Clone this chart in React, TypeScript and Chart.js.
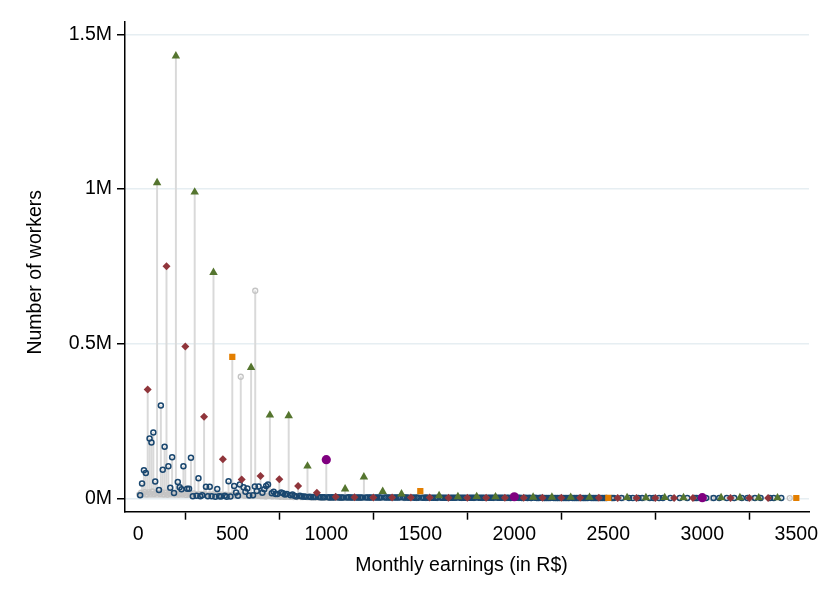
import React, { useEffect, useRef } from "react";
import { Chart, registerables } from "chart.js";

Chart.register(...registerables);

// ---- axis ticks ----
const xTicks = [0, 500, 1000, 1500, 2000, 2500, 3000, 3500];
const yTicks = [0, 500, 1000, 1500]; // thousands of workers
const yTickLabels = ["0M", "0.5M", "1M", "1.5M"];
const xTitle = "Monthly earnings (in R$)";
const yTitle = "Number of workers";

// ---- series (y in thousands of workers) ----
// multiples of 100 (not of 500)
const greenX = [100, 200, 300, 400, 600, 700, 800, 900, 1100, 1200, 1300, 1400, 1600, 1700, 1800, 1900, 2100, 2200, 2300, 2400, 2600, 2700, 2800, 2900, 3100, 3200, 3300, 3400];
const greenY = [1020, 1430, 990, 730, 423, 269, 267, 104, 30, 69, 22, 14, 8.5, 5, 5.5, 4.5, 3.5, 3.5, 3, 3, 2.5, 2, 2.5, 2, 2, 2, 1.5, 1.5];

// odd multiples of 50
const redX = [50, 150, 250, 350, 450, 550, 650, 750, 850, 950, 1050, 1150, 1250, 1350, 1450, 1550, 1650, 1750, 1850, 1950, 2050, 2150, 2250, 2350, 2450, 2550, 2650, 2750, 2850, 2950, 3150, 3250, 3350];
const redY = [352, 750, 491, 264, 126, 61, 72, 62, 40, 18, 5, 3.5, 3, 3, 2.5, 2.5, 2, 2, 2, 2, 1.8, 1.8, 1.5, 1.5, 1.5, 1.2, 1.2, 1.2, 1, 1, 1, 0.8, 0.8];

// odd multiples of 500
const orangeX = [500, 1500, 2500, 3500];
const orangeY = [457, 23, 1.5, 1];

// multiples of 1000
const purpleX = [1000, 2000, 3000];
const purpleY = [125, 5, 2];

// other multiples of 10
const blueX = [
  10, 20, 30, 40, 60, 70, 80, 90,
  110, 120, 130, 140, 160, 170, 180, 190,
  210, 220, 230, 240, 260, 270, 280, 290,
  310, 320, 330, 340, 360, 370, 380, 390,
  410, 420, 430, 440, 460, 470, 480, 490,
  510, 520, 530, 540, 560, 570, 580, 590,
  610, 620, 630, 640, 660, 670, 680, 690,
  710, 720, 730, 740, 760, 770, 780, 790,
  810, 820, 830, 840, 860, 870, 880, 890,
  910, 920, 930, 940, 960, 970, 980, 990,
  1010, 1020, 1030, 1040, 1060, 1070, 1080, 1090,
  1110, 1120, 1130, 1140, 1160, 1170, 1180, 1190,
  1210, 1220, 1230, 1240, 1260, 1270, 1280, 1290,
  1310, 1320, 1330, 1340, 1360, 1370, 1380, 1390,
  1410, 1420, 1430, 1440, 1460, 1470, 1480, 1490,
  1510, 1520, 1530, 1540, 1560, 1570, 1580, 1590,
  1610, 1620, 1630, 1640, 1660, 1670, 1680, 1690,
  1710, 1720, 1730, 1740, 1760, 1770, 1780, 1790,
  1810, 1820, 1830, 1840, 1860, 1870, 1880, 1890,
  1910, 1920, 1930, 1940, 1960, 1970, 1980, 1990,
  2010, 2020, 2030, 2040, 2060, 2070, 2080, 2090,
  2110, 2120, 2130, 2140, 2160, 2170, 2180, 2190,
  2210, 2220, 2230, 2240, 2260, 2270, 2280, 2290,
  2310, 2320, 2330, 2340, 2360, 2370, 2380, 2390,
  2410, 2420, 2430, 2440, 2460, 2470, 2480, 2490,
  2520, 2530, 2570, 2610, 2630, 2660, 2680, 2720, 2740, 2770, 2790, 2830, 2880, 2920,
  2960, 2970, 3020, 3060, 3090, 3130, 3170, 3210, 3240, 3280, 3310, 3360, 3380, 3420,
];
const blueY = [
  10, 48, 91, 82, 193, 180, 213, 54,
  27, 300, 92, 167, 104, 34, 133, 17,
  53, 36, 29, 104, 31, 31, 131, 7,
  8, 65, 7, 10, 37, 7, 37, 7,
  5, 30, 7, 6, 8, 5, 55, 6,
  40, 19, 8, 45, 36, 21, 32, 9,
  10, 38, 24, 38, 18, 29, 40, 45,
  16, 21, 14, 14, 19, 16, 12, 14,
  10, 12, 8, 6, 8, 6, 6, 5,
  5, 4.5, 4.5, 4, 4, 3.5, 3.5, 3.5,
  3.2, 3, 3.4, 2.9, 3.1, 2.8, 3, 2.7,
  2.9, 3.1, 2.7, 2.8, 2.6, 2.9, 2.5, 2.7,
  2.8, 2.6, 2.5, 2.7, 2.4, 2.6, 2.5, 2.3,
  2.5, 2.4, 2.6, 2.3, 2.4, 2.2, 2.5, 2.3,
  2.3, 2.2, 2.4, 2.1, 2.3, 2.0, 2.2, 2.1,
  2.1, 2.0, 2.2, 1.9, 2.1, 1.9, 2.0, 1.8,
  2.0, 1.9, 1.8, 2.0, 1.8, 1.7, 1.9, 1.7,
  1.8, 1.7, 1.9, 1.6, 1.8, 1.6, 1.7, 1.5,
  1.7, 1.6, 1.5, 1.7, 1.6, 1.5, 1.6, 1.4,
  1.6, 1.5, 1.4, 1.6, 1.4, 1.5, 1.3, 1.4,
  1.5, 1.4, 1.5, 1.3, 1.4, 1.3, 1.4, 1.2,
  1.4, 1.3, 1.2, 1.4, 1.3, 1.2, 1.3, 1.1,
  1.3, 1.2, 1.3, 1.1, 1.2, 1.1, 1.2, 1.0,
  1.2, 1.1, 1.2, 1.0, 1.1, 1.0, 1.1, 1.0,
  1.1, 1.0, 1.1, 0.9, 1.0, 0.9, 1.0, 0.9,
  0.9, 1.0, 0.9, 0.9, 0.8, 0.9, 0.8, 0.9, 0.8, 0.8, 0.9, 0.8, 0.8, 0.8,
  0.8, 0.8, 0.7, 0.8, 0.7, 0.8, 0.7, 0.7, 0.8, 0.7, 0.7, 0.7, 0.7, 0.7,
];

// non-round values
const grayX = [
  5, 15, 25, 35, 45, 55, 65, 75, 85, 95,
  105, 115, 125, 135, 145, 155, 165, 175, 185, 195,
  205, 215, 225, 235, 245, 255, 265, 275, 285, 295,
  305, 315, 325, 335, 345, 355, 365, 375, 385, 395,
  405, 415, 425, 435, 445, 455, 465, 475, 485, 495,
  505, 515, 525, 535, 545, 555, 565, 575, 585, 595,
  605, 615, 622, 625, 635, 645, 655, 665, 675, 685, 695,
  705, 715, 725, 735, 745, 755, 765, 775, 785, 795,
  805, 815, 825, 835, 845, 855, 865, 875, 885, 895,
  905, 915, 925, 935, 945, 955, 965, 975, 985, 995,
  1005, 1015, 1025, 1035, 1045, 1055, 1065, 1075, 1085, 1095,
  1105, 1115, 1125, 1135, 1145, 1155, 1165, 1175, 1185, 1195,
  1235, 1290, 1345, 1415, 1480, 1530, 1590, 1645, 1720, 1785,
  1830, 1890, 1960, 2025, 2090, 2160, 2230, 2290, 2370, 2440,
  2520, 2580, 2690, 2770, 2980, 3050, 3170, 3260, 3465,
];
const grayY = [
  12, 18, 14, 20, 13, 19, 15, 22, 14, 17,
  17, 14, 20, 13, 18, 12, 16, 14, 17, 13,
  15, 12, 16, 13, 17, 11, 14, 12, 13, 16,
  12, 13, 11, 14, 12, 13, 10, 12, 9, 13,
  10, 12, 9, 13, 10, 9, 12, 10, 9, 11,
  10, 9, 11, 9, 393, 10, 8, 9, 10, 8,
  9, 8, 671, 10, 8, 9, 7, 8, 6, 7, 8,
  7, 6, 8, 6, 7, 5, 6, 5, 5, 6,
  5, 5, 4, 5, 4, 5, 4, 4, 5, 4,
  3.5, 3.5, 3, 3.5, 3, 3.5, 3, 2.5, 3, 2.5,
  2.5, 2.5, 2, 2.5, 2, 2, 2, 1.8, 1.8, 1.7,
  1.7, 1.6, 1.6, 1.5, 1.5, 1.4, 1.4, 1.3, 1.2, 1.3,
  1.2, 1.1, 1.1, 1, 1, 1, 1, 0.9, 0.9, 0.9,
  0.9, 0.9, 0.8, 0.8, 0.8, 0.8, 0.8, 0.8, 0.7, 0.7,
  0.7, 0.7, 0.7, 0.7, 0.6, 0.6, 0.6, 0.6, 0.6,
];

const FONT = "'Liberation Sans', Arial, Helvetica, sans-serif";
const FS = 19.5;

function pts(xs: number[], ys: number[]) {
  return xs.map((x, i) => ({ x, y: ys[i] }));
}

export default function App() {
  const ref = useRef<HTMLCanvasElement>(null);

  useEffect(() => {
    if (!ref.current) return;
    const allPoints = [
      ...pts(grayX, grayY),
      ...pts(blueX, blueY),
      ...pts(redX, redY),
      ...pts(greenX, greenY),
      ...pts(orangeX, orangeY),
      ...pts(purpleX, purpleY),
    ];
    const chart = new Chart(ref.current, {
      type: "scatter",
      data: {
        datasets: [
          {
            type: "scatter",
            data: pts(purpleX, purpleY),
            pointStyle: "circle",
            pointRadius: 4.6,
            backgroundColor: "#800080",
            borderColor: "#800080",
            borderWidth: 0,
            order: 1,
          },
          {
            type: "scatter",
            data: pts(orangeX, orangeY),
            pointStyle: "rect",
            pointRadius: 4.4,
            backgroundColor: "#e37e00",
            borderColor: "#e37e00",
            borderWidth: 0,
            order: 2,
          },
          {
            type: "scatter",
            data: pts(greenX, greenY),
            pointStyle: "triangle",
            pointRadius: 4.9,
            backgroundColor: "#55752f",
            borderColor: "#55752f",
            borderWidth: 0,
            order: 3,
          },
          {
            type: "scatter",
            data: pts(redX, redY),
            pointStyle: "rectRot",
            pointRadius: 4,
            backgroundColor: "#90353b",
            borderColor: "#90353b",
            borderWidth: 0,
            order: 4,
          },
          {
            type: "scatter",
            data: pts(blueX, blueY),
            pointStyle: "circle",
            pointRadius: 2.5,
            backgroundColor: "rgba(255,255,255,0)",
            borderColor: "#1a476f",
            borderWidth: 1.5,
            order: 5,
          },
          {
            type: "scatter",
            data: pts(grayX, grayY),
            pointStyle: "circle",
            pointRadius: 2.5,
            backgroundColor: "rgba(255,255,255,0)",
            borderColor: "#c4c4c4",
            borderWidth: 1.3,
            order: 6,
          },
          {
            type: "bar",
            data: allPoints as any,
            backgroundColor: "#d9d9d9",
            borderWidth: 0,
            barThickness: 1.3,
            order: 10,
          } as any,
        ],
      },
      options: {
        animation: false,
        responsive: false,
        events: [],
        layout: { padding: { top: 22, right: 21, left: 0, bottom: 0 } },
        plugins: {
          legend: { display: false },
          tooltip: { enabled: false },
        },
        scales: {
          x: {
            type: "linear",
            min: -70.7,
            max: 3567.5,
            offset: false,
            afterBuildTicks: (s: any) => {
              s.ticks = xTicks.map((v) => ({ value: v }));
            },
            afterFit: (s: any) => {
              s.height = 92.3;
            },
            ticks: {
              autoSkip: false,
              maxRotation: 0,
              padding: 3,
              color: "#000",
              font: { family: FONT, size: FS },
              callback: (v: any) => String(v),
            },
            grid: {
              drawOnChartArea: false,
              drawTicks: true,
              tickLength: 8,
              tickColor: "#000",
              tickWidth: 1.5,
            },
            border: { display: true, color: "#000", width: 1.5 },
            title: {
              display: true,
              text: xTitle + "  ",
              color: "#000",
              font: { family: FONT, size: FS },
              padding: { top: 0, bottom: 27 },
            },
          },
          y: {
            type: "linear",
            min: -43.3,
            max: 1539.7,
            afterBuildTicks: (s: any) => {
              s.ticks = yTicks.map((v) => ({ value: v }));
            },
            afterFit: (s: any) => {
              s.width = 125;
            },
            ticks: {
              padding: 5,
              color: "#000",
              font: { family: FONT, size: FS },
              callback: (v: any) => yTickLabels[yTicks.indexOf(Number(v))],
            },
            grid: {
              color: "#e6eef2",
              lineWidth: 1.5,
              drawTicks: true,
              tickLength: 8,
              tickColor: "#000",
              tickWidth: 1.5,
            },
            border: { display: true, color: "#000", width: 1.5 },
            title: {
              display: true,
              text: yTitle + "  ",
              color: "#000",
              font: { family: FONT, size: FS },
              padding: { top: 24, bottom: 0 },
            },
          },
        },
      },
    });
    return () => chart.destroy();
  }, []);

  return (
    <div style={{ position: "absolute", left: 0, top: 0, width: 830, height: 604, background: "#fff" }}>
      <canvas ref={ref} width={830} height={604} style={{ display: "block" }} />
    </div>
  );
}
